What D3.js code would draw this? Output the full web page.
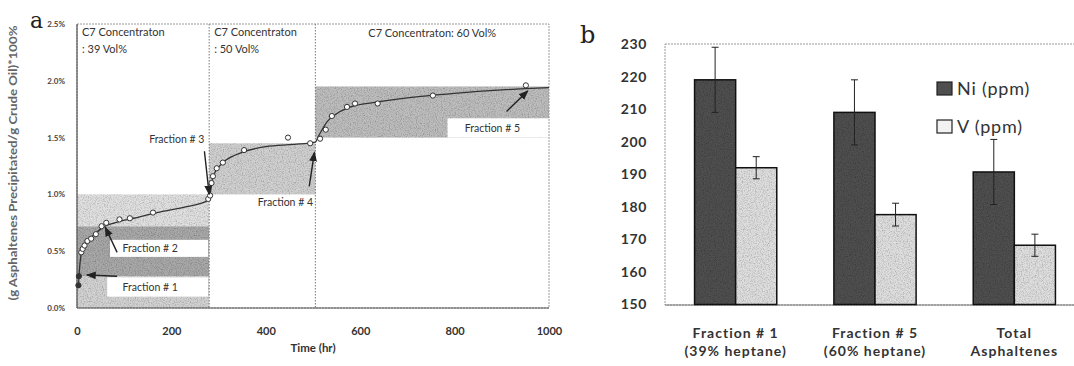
<!DOCTYPE html>
<html>
<head>
<meta charset="utf-8">
<script src="https://cdn.jsdelivr.net/npm/d3@7"></script>
<style>
  body { margin: 0; background: #fff; }
  svg { display: block; font-family: Lato, "Open Sans", sans-serif; }
</style>
</head>
<body>
<svg id="chart" width="1074" height="366"></svg>
<script>
// ---- panel a data ----
const timeTicks = [0, 200, 400, 600, 800, 1000];
const pctTicks = [0, 0.5, 1.0, 1.5, 2.0, 2.5];
const sampleTime = [3, 4, 9, 12, 16, 22, 30, 40, 52, 62, 90, 112, 161, 278, 282,
                    285, 288, 296, 309, 354, 447, 494,
                    515, 527, 540, 572, 589, 637, 754, 951];
const samplePct = [0.20, 0.28, 0.49, 0.52, 0.55, 0.59, 0.61, 0.65, 0.72, 0.75, 0.78, 0.79, 0.84, 0.96, 0.99,
                   1.10, 1.16, 1.23, 1.28, 1.39, 1.50, 1.45,
                   1.49, 1.57, 1.69, 1.77, 1.80, 1.80, 1.87, 1.96];
const fitTime = [3, 5, 8, 12, 20, 35, 55, 80, 120, 170, 230, 279,
                 282, 286, 292, 300, 315, 350, 400, 460, 505,
                 510, 518, 530, 550, 580, 630, 700, 800, 900, 1000];
const fitPct = [0.18, 0.33, 0.45, 0.52, 0.58, 0.64, 0.71, 0.75, 0.79, 0.84, 0.89, 0.95,
                1.00, 1.12, 1.19, 1.24, 1.30, 1.37, 1.42, 1.44, 1.46,
                1.50, 1.56, 1.64, 1.71, 1.77, 1.81, 1.85, 1.89, 1.92, 1.94];
const stageBreaks = [280, 505];
const stageTitles = [["C7 Concentraton", ": 39 Vol%"], ["C7 Concentraton", ": 50 Vol%"], ["C7 Concentraton: 60 Vol%"]];
// fraction bands: [t0, t1, pct0, pct1]
const fractionNames = ["Fraction # 1", "Fraction # 2", "Fraction # 3", "Fraction # 4", "Fraction # 5"];
const fractionBands = [[0, 280, 0, 0.28], [0, 280, 0.28, 0.72], [0, 280, 0.72, 1.0], [280, 505, 1.0, 1.45], [505, 1000, 1.5, 1.95]];
const fractionFill = ["#d2d2d2", "#a8a8a8", "#e0e0e0", "#d0d0d0", "#bdbdbd"];

// ---- panel b data ----
const metalGroups = ["Fraction # 1|(39% heptane)", "Fraction # 5|(60% heptane)", "Total|Asphaltenes"];
const niValues = [219, 209, 190.7];
const niErrors = [10, 10, 10];
const vValues = [192, 177.6, 168.2];
const vErrors = [3.4, 3.5, 3.4];
const metalTicks = [150, 160, 170, 180, 190, 200, 210, 220, 230];

const svg = d3.select("#chart");

// grainy texture like the scanned figure
const defs = svg.append("defs");
const grain = defs.append("filter").attr("id", "grain").attr("x", 0).attr("y", 0).attr("width", 1).attr("height", 1);
grain.append("feTurbulence").attr("type", "fractalNoise").attr("baseFrequency", 0.85).attr("numOctaves", 2).attr("seed", 4).attr("result", "noise");
grain.append("feColorMatrix").attr("in", "noise").attr("type", "matrix")
  .attr("values", "0 0 0 0 0  0 0 0 0 0  0 0 0 0 0  1.0 0 0 0 -0.42").attr("result", "dots");
grain.append("feComposite").attr("in", "dots").attr("in2", "SourceGraphic").attr("operator", "in").attr("result", "clip");
const gm = grain.append("feMerge");
gm.append("feMergeNode").attr("in", "SourceGraphic");
gm.append("feMergeNode").attr("in", "clip");

defs.append("marker").attr("id", "arrow").attr("viewBox", "0 0 10 10").attr("refX", 9).attr("refY", 5)
  .attr("markerWidth", 7).attr("markerHeight", 7).attr("orient", "auto-start-reverse")
  .append("path").attr("d", "M0,1 L10,5 L0,9 Z").attr("fill", "#222");

// ================= panel a =================
const ax = { left: 77, right: 549, top: 24, bottom: 308 };
const x = d3.scaleLinear().domain([0, 1000]).range([ax.left, ax.right]);
const y = d3.scaleLinear().domain([0, 2.5]).range([ax.bottom, ax.top]);

const ga = svg.append("g");

ga.selectAll("rect.band")
  .data(fractionBands)
  .enter().append("rect")
  .attr("class", "band")
  .attr("x", d => x(d[0]))
  .attr("y", d => y(d[3]))
  .attr("width", d => x(d[1]) - x(d[0]))
  .attr("height", d => y(d[2]) - y(d[3]))
  .attr("fill", (d, i) => fractionFill[i])
  .attr("filter", "url(#grain)");

// white label boxes inside the bands: [t0, t1, pct0, pct1]
const labelBoxes = [[64, 278, 0.1, 0.27], [70, 278, 0.45, 0.6], [785, 1000, 1.5, 1.67]];
ga.selectAll("rect.lbox")
  .data(labelBoxes)
  .enter().append("rect")
  .attr("x", d => x(d[0]))
  .attr("y", d => y(d[3]))
  .attr("width", d => x(d[1]) - x(d[0]))
  .attr("height", d => y(d[2]) - y(d[3]))
  .attr("fill", "#fff");

// frame
ga.append("rect")
  .attr("x", ax.left).attr("y", ax.top)
  .attr("width", ax.right - ax.left).attr("height", ax.bottom - ax.top)
  .attr("fill", "none").attr("stroke", "#9a9a9a").attr("stroke-dasharray", "2,1");
ga.append("line").attr("x1", ax.left).attr("x2", ax.left).attr("y1", ax.top).attr("y2", ax.bottom)
  .attr("stroke", "#555").attr("stroke-width", 1.2);
ga.append("line").attr("x1", ax.left).attr("x2", ax.right).attr("y1", ax.bottom).attr("y2", ax.bottom)
  .attr("stroke", "#555").attr("stroke-width", 1.2);

ga.selectAll("line.stage")
  .data(stageBreaks)
  .enter().append("line")
  .attr("x1", d => x(d)).attr("x2", d => x(d))
  .attr("y1", ax.top).attr("y2", ax.bottom)
  .attr("stroke", "#777").attr("stroke-dasharray", "1.5,1.5");

// axes
const axA = ga.append("g").attr("transform", `translate(0,${ax.bottom})`)
  .call(d3.axisBottom(x).tickValues(timeTicks).tickSize(0).tickPadding(19).tickFormat(d3.format("d")));
axA.select(".domain").remove();
axA.selectAll("text").attr("font-size", 11).attr("font-weight", 700).attr("fill", "#333").attr("font-family", "Lato, sans-serif");

const ayA = ga.append("g").attr("transform", `translate(${ax.left},0)`)
  .call(d3.axisLeft(y).tickValues(pctTicks).tickSize(0).tickPadding(12).tickFormat(d => d.toFixed(1) + "%"));
ayA.select(".domain").remove();
ayA.selectAll("text").attr("font-size", 8).attr("font-weight", 700).attr("fill", "#444").attr("font-family", "Lato, sans-serif");

ga.append("text").attr("x", (ax.left + ax.right) / 2).attr("y", 352)
  .attr("text-anchor", "middle").attr("font-size", 11.5).attr("font-weight", 700).attr("fill", "#333")
  .text("Time (hr)");

ga.append("text").attr("transform", "translate(17,163) rotate(-90)")
  .attr("text-anchor", "middle").attr("font-size", 10.5).attr("font-weight", 700).attr("fill", "#666")
  .attr("textLength", 275).attr("lengthAdjust", "spacingAndGlyphs")
  .text("(g Asphaltenes Precipitated/g Crude Oil)*100%");

// stage headings
const stageX = [x(0) + 5, x(stageBreaks[0]) + 5];
stageTitles.forEach((lines, i) => {
  const t = ga.append("text").attr("font-size", 11).attr("fill", "#333");
  if (i < 2) {
    lines.forEach((s, j) => t.append("tspan").attr("x", stageX[i]).attr("y", 36 + j * 17).text(s));
  } else {
    t.attr("x", (x(stageBreaks[1]) + ax.right) / 2).attr("y", 37).attr("text-anchor", "middle").text(lines[0]);
  }
});

// fitted curve
const fitLine = d3.line().x(d => x(d[0])).y(d => y(d[1])).curve(d3.curveMonotoneX);
ga.append("path")
  .datum(fitTime.map((t, i) => [t, fitPct[i]]))
  .attr("d", fitLine)
  .attr("fill", "none").attr("stroke", "#333").attr("stroke-width", 1.3);

// sample points
ga.selectAll("circle.pt")
  .data(sampleTime.map((t, i) => [t, samplePct[i]]))
  .enter().append("circle")
  .attr("cx", d => x(d[0])).attr("cy", d => y(d[1])).attr("r", 2.6)
  .attr("fill", (d, i) => i < 2 ? "#333" : "#fff")
  .attr("stroke", "#333").attr("stroke-width", 1);

// fraction labels [text index, anchor t, anchor pct, text-anchor]
const fracLabels = [[0, 155, 0.15, "middle"], [1, 155, 0.49, "middle"], [2, 270, 1.45, "end"], [3, 500, 0.9, "end"], [4, 880, 1.55, "middle"]];
ga.selectAll("text.frac")
  .data(fracLabels)
  .enter().append("text")
  .attr("x", d => x(d[1])).attr("y", d => y(d[2]))
  .attr("text-anchor", d => d[3])
  .attr("font-size", 10.5).attr("fill", "#333")
  .text(d => fractionNames[d[0]]);

// arrows [t0, pct0, t1, pct1]
const arrows = [[85, 0.28, 21, 0.29], [85, 0.49, 60, 0.71], [270, 1.38, 280, 1.0], [492, 1.07, 503, 1.37], [910, 1.73, 955, 1.91]];
ga.selectAll("line.arrow")
  .data(arrows)
  .enter().append("line")
  .attr("x1", d => x(d[0])).attr("y1", d => y(d[1]))
  .attr("x2", d => x(d[2])).attr("y2", d => y(d[3]))
  .attr("stroke", "#222").attr("stroke-width", 1.4)
  .attr("marker-end", "url(#arrow)");

svg.append("text").attr("x", 30).attr("y", 28).attr("font-family", "'DejaVu Serif', 'Liberation Serif', serif")
  .attr("font-size", 22).attr("fill", "#222").text("a");

// ================= panel b =================
const bx = { left: 665, right: 1084, top: 44, bottom: 305 };
const x0 = d3.scaleBand().domain(metalGroups).range([666, 1084]).paddingInner(0.41).paddingOuter(0.205);
const x1 = d3.scaleBand().domain(["Ni", "V"]).range([0, x0.bandwidth()]);
const yb = d3.scaleLinear().domain([150, 230]).range([304.5, 44]);

const gb = svg.append("g");
gb.append("rect").attr("x", bx.left).attr("y", bx.top)
  .attr("width", bx.right - bx.left).attr("height", bx.bottom - bx.top)
  .attr("fill", "none").attr("stroke", "#999").attr("stroke-dasharray", "2,1");
gb.append("line").attr("x1", bx.left).attr("x2", bx.right).attr("y1", bx.bottom).attr("y2", bx.bottom)
  .attr("stroke", "#777");

const ayB = gb.append("g").attr("transform", `translate(${bx.left},0)`)
  .call(d3.axisLeft(yb).tickValues(metalTicks).tickSize(0).tickPadding(18));
ayB.select(".domain").remove();
ayB.selectAll("text").attr("font-size", 14).attr("font-weight", 700).attr("fill", "#333")
  .attr("letter-spacing", 0.6).attr("font-family", "Lato, sans-serif");

const series = [
  { key: "Ni", values: niValues, errors: niErrors, fill: "#4f4f4f" },
  { key: "V", values: vValues, errors: vErrors, fill: "#dedede" }
];

series.forEach(s => {
  gb.selectAll("rect.bar-" + s.key)
    .data(metalGroups)
    .enter().append("rect")
    .attr("x", d => x0(d) + x1(s.key))
    .attr("y", (d, i) => yb(s.values[i]))
    .attr("width", x1.bandwidth())
    .attr("height", (d, i) => yb(150) - yb(s.values[i]))
    .attr("fill", s.fill)
    .attr("filter", "url(#grain)");
  gb.selectAll("rect.edge-" + s.key)
    .data(metalGroups)
    .enter().append("rect")
    .attr("x", d => x0(d) + x1(s.key))
    .attr("y", (d, i) => yb(s.values[i]))
    .attr("width", x1.bandwidth())
    .attr("height", (d, i) => yb(150) - yb(s.values[i]))
    .attr("fill", "none").attr("stroke", "#111").attr("stroke-width", 1.5);

  const eg = gb.selectAll("g.err-" + s.key)
    .data(metalGroups)
    .enter().append("g")
    .attr("transform", d => `translate(${x0(d) + x1(s.key) + x1.bandwidth() / 2},0)`);
  eg.append("line").attr("y1", (d, i) => yb(s.values[i] + s.errors[i])).attr("y2", (d, i) => yb(s.values[i] - s.errors[i]))
    .attr("stroke", "#222").attr("stroke-width", 1);
  eg.append("line").attr("x1", -3.5).attr("x2", 3.5)
    .attr("y1", (d, i) => yb(s.values[i] + s.errors[i])).attr("y2", (d, i) => yb(s.values[i] + s.errors[i]))
    .attr("stroke", "#222");
  eg.append("line").attr("x1", -3.5).attr("x2", 3.5)
    .attr("y1", (d, i) => yb(s.values[i] - s.errors[i])).attr("y2", (d, i) => yb(s.values[i] - s.errors[i]))
    .attr("stroke", "#222");
});

// category labels (two lines)
gb.selectAll("text.cat")
  .data(metalGroups)
  .enter().append("text")
  .attr("text-anchor", "middle").attr("font-size", 14).attr("font-weight", 700)
  .attr("letter-spacing", 1).attr("fill", "#333")
  .each(function(d) {
    const parts = d.split("|");
    d3.select(this).selectAll("tspan").data(parts).enter().append("tspan")
      .attr("x", x0(d) + x0.bandwidth() / 2)
      .attr("y", (p, j) => 338 + j * 18)
      .text(p => p);
  });

// legend
const legend = gb.append("g").attr("transform", "translate(937,82)");
series.forEach((s, i) => {
  legend.append("rect").attr("x", 0).attr("y", i * 38).attr("width", 15).attr("height", 13)
    .attr("fill", i === 0 ? "#4f4f4f" : "#f2f2f2").attr("stroke", "#222").attr("stroke-width", 1.2);
  legend.append("text").attr("x", 20).attr("y", i * 38 + 13)
    .attr("font-size", 18).attr("fill", "#333").attr("letter-spacing", 0.8)
    .text(s.key + " (ppm)");
});

svg.append("text").attr("x", 580).attr("y", 43).attr("font-family", "'DejaVu Serif', 'Liberation Serif', serif")
  .attr("font-size", 24).attr("fill", "#222").text("b");
</script>
</body>
</html>
